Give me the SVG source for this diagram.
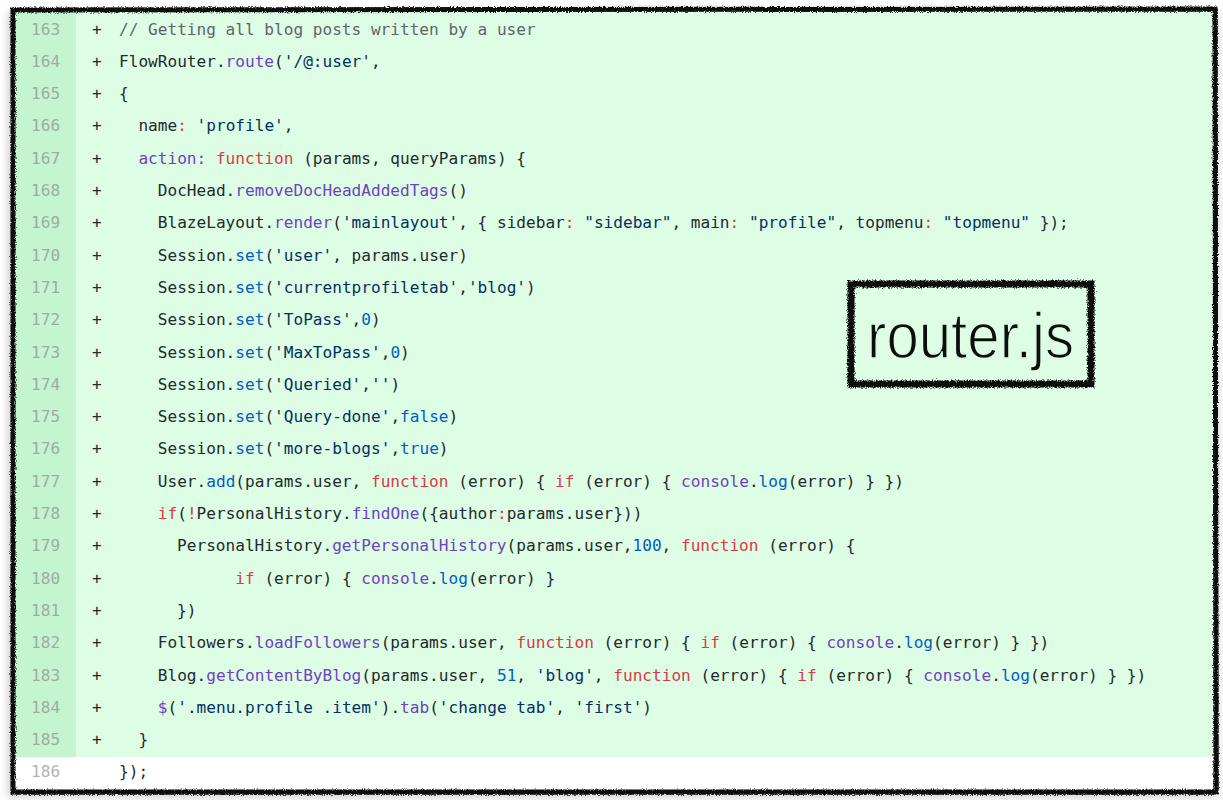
<svg xmlns="http://www.w3.org/2000/svg" width="1223" height="800" viewBox="0 0 1223 800">
<defs>
<style>
.code{font-family:"DejaVu Sans Mono","Liberation Mono",monospace;font-size:16.1px;fill:#24292e;white-space:pre}
.ln{font-family:"DejaVu Sans Mono","Liberation Mono",monospace;font-size:16.1px;fill:#9cae9f}
.ln2{fill:#b3b3b3}
.k{fill:#d73a49}
.f{fill:#6f42c1}
.b{fill:#005cc5}
.s{fill:#032f62}
.c{fill:#5f656c}
</style>
<filter id="rough" x="-5%" y="-5%" width="110%" height="110%">
<feTurbulence type="fractalNoise" baseFrequency="0.9" numOctaves="2" seed="4" result="n"/>
<feDisplacementMap in="SourceGraphic" in2="n" scale="4" xChannelSelector="R" yChannelSelector="G"/>
</filter>
<filter id="rough2" x="-10%" y="-10%" width="120%" height="120%">
<feTurbulence type="fractalNoise" baseFrequency="1.2" numOctaves="2" seed="7" result="n"/>
<feDisplacementMap in="SourceGraphic" in2="n" scale="5" xChannelSelector="R" yChannelSelector="G"/>
</filter>
<filter id="shadow" x="-5%" y="-5%" width="110%" height="110%">
<feGaussianBlur stdDeviation="4"/>
</filter>
</defs>
<rect width="1223" height="800" fill="#ffffff"/>
<g id="panel">
<rect x="8" y="12" width="1210" height="785" fill="#9a9a9a" opacity="0.5" filter="url(#shadow)"/>
<rect x="14" y="12" width="1199" height="746" fill="#ddfde4"/>
<rect x="14" y="12" width="62" height="746" fill="#c4f5cf"/>
<rect x="14" y="757" width="1199" height="33" fill="#ffffff"/>
</g>
<g id="line-numbers">
<text class="ln" x="31" y="34.5">163</text>
<text class="ln" x="31" y="66.8">164</text>
<text class="ln" x="31" y="99.1">165</text>
<text class="ln" x="31" y="131.4">166</text>
<text class="ln" x="31" y="163.7">167</text>
<text class="ln" x="31" y="196">168</text>
<text class="ln" x="31" y="228.3">169</text>
<text class="ln" x="31" y="260.6">170</text>
<text class="ln" x="31" y="292.9">171</text>
<text class="ln" x="31" y="325.2">172</text>
<text class="ln" x="31" y="357.5">173</text>
<text class="ln" x="31" y="389.8">174</text>
<text class="ln" x="31" y="422.1">175</text>
<text class="ln" x="31" y="454.4">176</text>
<text class="ln" x="31" y="486.7">177</text>
<text class="ln" x="31" y="519">178</text>
<text class="ln" x="31" y="551.3">179</text>
<text class="ln" x="31" y="583.6">180</text>
<text class="ln" x="31" y="615.9">181</text>
<text class="ln" x="31" y="648.2">182</text>
<text class="ln" x="31" y="680.5">183</text>
<text class="ln" x="31" y="712.8">184</text>
<text class="ln" x="31" y="745.1">185</text>
<text class="ln ln2" x="31" y="777.4">186</text>
</g>
<g id="plus-signs">
<text class="code" x="92" y="34.5">+</text>
<text class="code" x="92" y="66.8">+</text>
<text class="code" x="92" y="99.1">+</text>
<text class="code" x="92" y="131.4">+</text>
<text class="code" x="92" y="163.7">+</text>
<text class="code" x="92" y="196">+</text>
<text class="code" x="92" y="228.3">+</text>
<text class="code" x="92" y="260.6">+</text>
<text class="code" x="92" y="292.9">+</text>
<text class="code" x="92" y="325.2">+</text>
<text class="code" x="92" y="357.5">+</text>
<text class="code" x="92" y="389.8">+</text>
<text class="code" x="92" y="422.1">+</text>
<text class="code" x="92" y="454.4">+</text>
<text class="code" x="92" y="486.7">+</text>
<text class="code" x="92" y="519">+</text>
<text class="code" x="92" y="551.3">+</text>
<text class="code" x="92" y="583.6">+</text>
<text class="code" x="92" y="615.9">+</text>
<text class="code" x="92" y="648.2">+</text>
<text class="code" x="92" y="680.5">+</text>
<text class="code" x="92" y="712.8">+</text>
<text class="code" x="92" y="745.1">+</text>
</g>
<g id="code-lines" xml:space="preserve">
<text class="code" x="119" y="34.5"><tspan class="c">// Getting all blog posts written by a user</tspan></text>
<text class="code" x="119" y="66.8">FlowRouter.<tspan class="f">route</tspan>(<tspan class="s">'/@:user'</tspan>,</text>
<text class="code" x="119" y="99.1">{</text>
<text class="code" x="138.4" y="131.4">name<tspan class="k">:</tspan> <tspan class="s">'profile'</tspan>,</text>
<text class="code" x="138.4" y="163.7"><tspan class="f">action:</tspan> <tspan class="k">function</tspan> (params, queryParams) {</text>
<text class="code" x="157.8" y="196">DocHead.<tspan class="f">removeDocHeadAddedTags</tspan>()</text>
<text class="code" x="157.8" y="228.3">BlazeLayout.<tspan class="f">render</tspan>(<tspan class="s">'mainlayout'</tspan>, { sidebar<tspan class="k">:</tspan> <tspan class="s">"sidebar"</tspan>, main<tspan class="k">:</tspan> <tspan class="s">"profile"</tspan>, topmenu<tspan class="k">:</tspan> <tspan class="s">"topmenu"</tspan> });</text>
<text class="code" x="157.8" y="260.6">Session.<tspan class="b">set</tspan>(<tspan class="s">'user'</tspan>, params.user)</text>
<text class="code" x="157.8" y="292.9">Session.<tspan class="b">set</tspan>(<tspan class="s">'currentprofiletab'</tspan>,<tspan class="s">'blog'</tspan>)</text>
<text class="code" x="157.8" y="325.2">Session.<tspan class="b">set</tspan>(<tspan class="s">'ToPass'</tspan>,<tspan class="b">0</tspan>)</text>
<text class="code" x="157.8" y="357.5">Session.<tspan class="b">set</tspan>(<tspan class="s">'MaxToPass'</tspan>,<tspan class="b">0</tspan>)</text>
<text class="code" x="157.8" y="389.8">Session.<tspan class="b">set</tspan>(<tspan class="s">'Queried'</tspan>,<tspan class="s">''</tspan>)</text>
<text class="code" x="157.8" y="422.1">Session.<tspan class="b">set</tspan>(<tspan class="s">'Query-done'</tspan>,<tspan class="b">false</tspan>)</text>
<text class="code" x="157.8" y="454.4">Session.<tspan class="b">set</tspan>(<tspan class="s">'more-blogs'</tspan>,<tspan class="b">true</tspan>)</text>
<text class="code" x="157.8" y="486.7">User.<tspan class="b">add</tspan>(params.user, <tspan class="k">function</tspan> (error) { <tspan class="k">if</tspan> (error) { <tspan class="f">console</tspan>.<tspan class="b">log</tspan>(error) } })</text>
<text class="code" x="157.8" y="519"><tspan class="k">if</tspan>(<tspan class="k">!</tspan>PersonalHistory.<tspan class="f">findOne</tspan>({author<tspan class="k">:</tspan>params.user}))</text>
<text class="code" x="177.1" y="551.3">PersonalHistory.<tspan class="f">getPersonalHistory</tspan>(params.user,<tspan class="b">100</tspan>, <tspan class="k">function</tspan> (error) {</text>
<text class="code" x="235.3" y="583.6"><tspan class="k">if</tspan> (error) { <tspan class="f">console</tspan>.<tspan class="b">log</tspan>(error) }</text>
<text class="code" x="177.1" y="615.9">})</text>
<text class="code" x="157.8" y="648.2">Followers.<tspan class="f">loadFollowers</tspan>(params.user, <tspan class="k">function</tspan> (error) { <tspan class="k">if</tspan> (error) { <tspan class="f">console</tspan>.<tspan class="b">log</tspan>(error) } })</text>
<text class="code" x="157.8" y="680.5">Blog.<tspan class="f">getContentByBlog</tspan>(params.user, <tspan class="b">51</tspan>, <tspan class="s">'blog'</tspan>, <tspan class="k">function</tspan> (error) { <tspan class="k">if</tspan> (error) { <tspan class="f">console</tspan>.<tspan class="b">log</tspan>(error) } })</text>
<text class="code" x="157.8" y="712.8"><tspan class="f">$</tspan>(<tspan class="s">'.menu.profile .item'</tspan>).<tspan class="f">tab</tspan>(<tspan class="s">'change tab'</tspan>, <tspan class="s">'first'</tspan>)</text>
<text class="code" x="138.4" y="745.1">}</text>
<text class="code" x="119" y="777.4">});</text>
</g>
<g id="frame" filter="url(#rough)">
<path d="M13 10 L1215 9 L1216 792 L13 792 Z" fill="none" stroke="#0a0a0a" stroke-width="5"/>
<path d="M1216 12 L1217 790" fill="none" stroke="#0a0a0a" stroke-width="3"/>
<path d="M16 793 L1214 793" fill="none" stroke="#0a0a0a" stroke-width="3"/>
</g>
<g id="router-js-label">
<rect x="851" y="284" width="240" height="100" fill="none" stroke="#0a0a0a" stroke-width="7" filter="url(#rough2)"/>
<text x="867" y="358" font-family="'Liberation Sans', Arial, sans-serif" font-size="64" fill="#0d0d0d" stroke="#ddfde4" stroke-width="1.4" textLength="207" lengthAdjust="spacingAndGlyphs">router.js</text>
</g>
</svg>
